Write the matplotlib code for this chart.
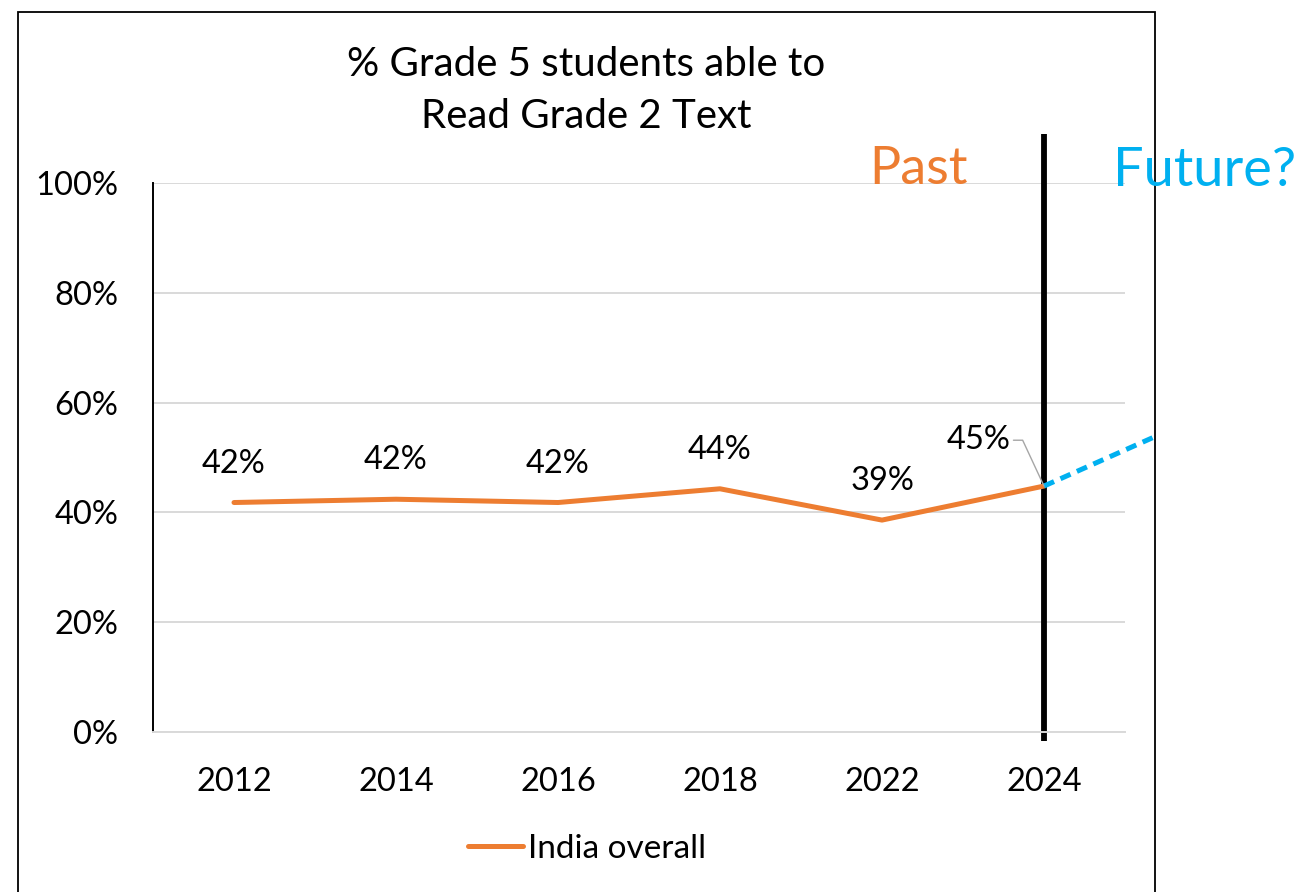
import matplotlib

matplotlib.use("Agg")
import matplotlib.pyplot as plt
from matplotlib.patches import Rectangle
from matplotlib.ticker import PercentFormatter

plt.rcParams["font.family"] = ["Lato", "DejaVu Sans"]

# ASER: share of grade 5 children who can read a grade 2 level text
years = ["2012", "2014", "2016", "2018", "2022", "2024"]
india_overall = [0.418, 0.424, 0.418, 0.443, 0.386, 0.448]
label_text = ["42%", "42%", "42%", "44%", "39%", "45%"]

# hypothetical continuation after the latest survey
future_x = [5, 5.67]
future_y = [0.448, 0.536]

ORANGE = "#ED7D31"
BLUE = "#00B0F0"
GRID = "#D9D9D9"
FS = 23.5

W, H = 1297, 892
fig = plt.figure(figsize=(W / 100, H / 100), dpi=100)
ax = fig.add_axes([153 / W, (H - 732) / H, (1125 - 153) / W, (732 - 183) / H])

x = list(range(len(years)))
ax.plot(x, india_overall, color=ORANGE, lw=3.6, solid_capstyle="round",
        label="India overall", zorder=3)
ax.plot(future_x, future_y, color=BLUE, lw=3.6, ls=(0, (2.2, 1.4)),
        clip_on=False, zorder=3)

# divider between past and future
divider = years.index("2024")
ax.plot([divider, divider], [-0.017, 1.089], color="black", lw=4.2,
        clip_on=False, zorder=2, solid_capstyle="butt")

for i, (v, txt) in enumerate(zip(india_overall, label_text)):
    if i == len(years) - 1:
        # last label sits off to the left with a leader line
        ax.annotate(txt, (i, v), xytext=(-47, 33), textcoords="offset points",
                    ha="center", va="center", fontsize=FS,
                    arrowprops=dict(arrowstyle="-", color="#A6A6A6", lw=1.0,
                                    relpos=(1, 0.5), shrinkA=0, shrinkB=0,
                                    connectionstyle="arc,angleA=0,armA=12,angleB=90,armB=0,rad=0"))
    else:
        ax.annotate(txt, (i, v), xytext=(0, 28), textcoords="offset points",
                    ha="center", va="center", fontsize=FS)

ax.set_xlim(-0.5, len(years) - 0.5)
ax.set_ylim(0, 1)
ax.set_xticks(x)
ax.set_xticklabels(years)
ax.set_yticks([0, 0.2, 0.4, 0.6, 0.8, 1.0])
ax.yaxis.set_major_formatter(PercentFormatter(1.0, decimals=0))
ax.tick_params(axis="both", length=0, labelsize=FS)
ax.tick_params(axis="x", pad=25)
ax.tick_params(axis="y", pad=25)
ax.grid(axis="y", color=GRID, lw=1.4)
ax.set_axisbelow(True)
for side in ("top", "right"):
    ax.spines[side].set_visible(False)
ax.spines["bottom"].set_color(GRID)
ax.spines["bottom"].set_linewidth(1.4)
ax.spines["left"].set_linewidth(1.4)

fig.text(586 / W, 1 - 90 / H, "% Grade 5 students able to\nRead Grade 2 Text",
         ha="center", va="center", fontsize=29, linespacing=1.5)
fig.text(918 / W, 1 - 170 / H, "Past", color=ORANGE, ha="center", va="center",
         fontsize=37.5)
fig.text(1205 / W, 1 - 170 / H, "Future?", color=BLUE, ha="center", va="center",
         fontsize=39)

ax.legend(loc="center", bbox_to_anchor=(587 / W, 1 - 849 / H),
          bbox_transform=fig.transFigure, frameon=False, fontsize=24,
          handlelength=1.65, handletextpad=0.15)

# chart border
fig.patches.append(Rectangle((18 / W, -0.01), (1155 - 18) / W, 1.01 - 12 / H,
                             transform=fig.transFigure, fill=False,
                             edgecolor="black", lw=1.3, zorder=0))

fig.savefig("out.png", dpi=100)
